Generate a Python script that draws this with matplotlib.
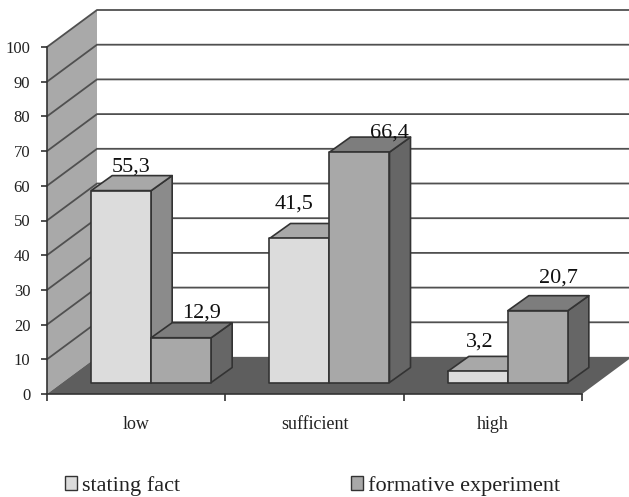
# plot.py - 3D style clustered bars drawn on a plain axes

import numpy as np
import matplotlib
matplotlib.use('Agg')
import matplotlib.pyplot as plt
from matplotlib.patches import Patch, Polygon

# Data
categories = ['low', 'sufficient', 'high']
stating_fact = [55.3, 41.5, 3.2]
formative_experiment = [12.9, 66.4, 20.7]
value_labels = [['55,3', '41,5', '3,2'], ['12,9', '66,4', '20,7']]
series_names = ['stating fact', 'formative experiment']
y_ticks = np.arange(0, 101, 10)

# Layout in pixels, converted to data units below
W, H = 629, 497
LEFT, RIGHT, BOTTOM, TOP = 47, 582, 394, 47
px_x = 3 / (RIGHT - LEFT)
px_y = 100 / (BOTTOM - TOP)

WALL_DX, WALL_DY = 50 * px_x, 37 * px_y
BAR_W = 60 * px_x
BAR_DX, BAR_DY = 21 * px_x, 15 * px_y
BASE_DX, BASE_DY = 15 * px_x, 11.5 * px_y

# label offsets from the top centre of each bar front, in pixels
label_nudge = [[(10, 24), (-5, 34), (2, 29)], [(20, 25), (30, 19), (21, 33)]]

plt.rcParams['font.family'] = ['Liberation Serif', 'DejaVu Serif']

fig = plt.figure(figsize=(W / 100, H / 100), dpi=100)
ax = fig.add_axes([LEFT / W, 1 - BOTTOM / H, (RIGHT - LEFT) / W, (BOTTOM - TOP) / H])
ax.set_xlim(0, 3)
ax.set_ylim(0, 100)
ax.patch.set_alpha(0)


def poly(points, color, z, edge='#333333', lw=1.2):
    ax.add_patch(Polygon(points, closed=True, facecolor=color, edgecolor=edge,
                         linewidth=lw, zorder=z, clip_on=False, joinstyle='round'))


# Side wall and floor
poly([(0, 0), (WALL_DX, WALL_DY), (WALL_DX, 100 + WALL_DY), (0, 100)], '#a9a9a9', 1, edge='none', lw=0)
poly([(0, 0), (3, 0), (3 + WALL_DX, WALL_DY), (WALL_DX, WALL_DY)], '#5e5e5e', 2, edge='none', lw=0)

# Gridlines across wall and back
for v in y_ticks:
    if v == 0:
        ax.plot([WALL_DX, 3 + WALL_DX], [WALL_DY, WALL_DY], color='#8a8a8a', lw=1.0, zorder=1.5, clip_on=False)
        continue
    ax.plot([0, WALL_DX, 3 + WALL_DX], [v, v + WALL_DY, v + WALL_DY],
            color='#505050', lw=1.3, zorder=1.5, clip_on=False, solid_joinstyle='miter')


def draw_bar(x0, value, colors, z):
    front, top, side = colors
    x1 = x0 + BAR_W
    y0 = BASE_DY
    y1 = BASE_DY + value
    poly([(x1, y0), (x1 + BAR_DX, y0 + BAR_DY), (x1 + BAR_DX, y1 + BAR_DY), (x1, y1)], side, z)
    poly([(x0, y1), (x1, y1), (x1 + BAR_DX, y1 + BAR_DY), (x0 + BAR_DX, y1 + BAR_DY)], top, z)
    poly([(x0, y0), (x1, y0), (x1, y1), (x0, y1)], front, z)


series = [stating_fact, formative_experiment]
palette = [('#dcdcdc', '#a8a8a8', '#8b8b8b'), ('#a8a8a8', '#7d7d7d', '#666666')]

z = 3
for i in range(len(categories)):
    center = i + 0.5 + BASE_DX
    for s, vals in enumerate(series):
        x0 = center - BAR_W + s * BAR_W
        draw_bar(x0, vals[i], palette[s], z)
        z += 1
        nx, ny = label_nudge[s][i]
        ax.annotate(value_labels[s][i], (x0 + BAR_W / 2, BASE_DY + vals[i]),
                    xytext=(nx * 0.72, ny * 0.72), textcoords='offset points',
                    ha='center', va='center', fontsize=16, color='#111111',
                    zorder=20, annotation_clip=False)

# Axes
for name in ['top', 'right']:
    ax.spines[name].set_visible(False)
for name in ['left', 'bottom']:
    ax.spines[name].set_color('#333333')
    ax.spines[name].set_linewidth(1.2)
    ax.spines[name].set_zorder(15)
ax.set_yticks(y_ticks)
ax.set_xticks([0, 1, 2, 3])
ax.set_xticklabels([])
ax.set_xticks([0.5, 1.5, 2.5], minor=True)
ax.set_xticklabels(categories, minor=True)
ax.tick_params(axis='x', which='major', length=5, width=1.2, color='#333333')
ax.tick_params(axis='x', which='minor', length=0, pad=16, labelsize=13, labelcolor='#222222')
ax.tick_params(axis='y', length=4, width=1.2, color='#333333', labelsize=12, labelcolor='#222222', pad=8)

# Legend
handles = [Patch(facecolor=palette[0][0], edgecolor='#333333', linewidth=1.0),
           Patch(facecolor=palette[1][0], edgecolor='#333333', linewidth=1.0)]
fig.legend(handles, series_names, ncol=2, frameon=False, fontsize=16,
           loc='center left', bbox_to_anchor=(0.0715, 0.022),
           handlelength=0.55, handleheight=0.55, handletextpad=0.2,
           columnspacing=7.7, labelcolor='#222222')

fig.savefig('out.png', dpi=100)
